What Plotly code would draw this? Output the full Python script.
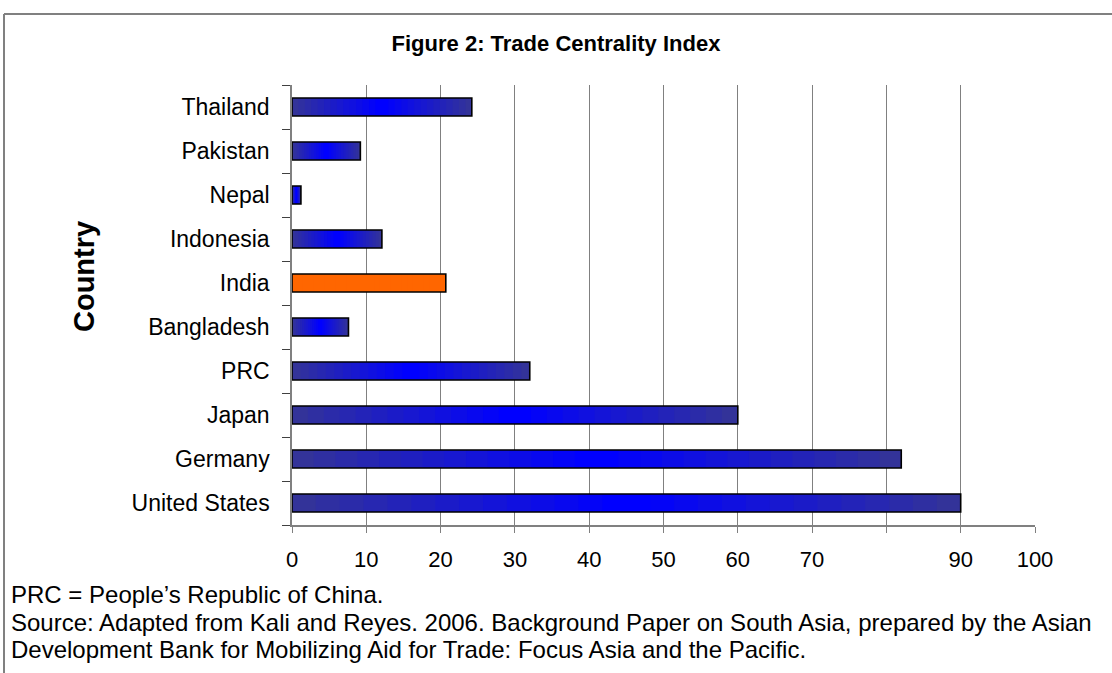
import plotly.graph_objects as go

# ---- data ----
countries = ["United States", "Germany", "Japan", "PRC", "Bangladesh",
             "India", "Indonesia", "Nepal", "Pakistan", "Thailand"]
values = [90, 82, 60, 32, 7.6, 20.7, 12.1, 1.2, 9.2, 24.2]
highlight = "India"
x_tickvals = [0, 10, 20, 30, 40, 50, 60, 70, 80, 90, 100]
x_ticktext = ["0", "10", "20", "30", "40", "50", "60", "70", "", "90", "100"]

title_text = "<b>Figure 2: Trade Centrality Index</b>"
y_title = "<b>Country</b>"
notes = ["PRC = People\u2019s Republic of China.",
         "Source: Adapted from Kali and Reyes. 2006. Background Paper on South Asia, prepared by the Asian",
         "Development Bank for Mobilizing Aid for Trade: Focus Asia and the Pacific."]

# ---- layout geometry (pixels) ----
W, H = 1112, 673
L, R, T, B = 292, 1035, 85, 525
pw, ph = R - L, B - T

def px(x):
    return (x - L) / pw

def py(y):
    return (B - y) / ph

FONT = "Arial, Liberation Sans, sans-serif"
edge = (51, 51, 153)
center = (0, 0, 255)
orange = "#FF6600"
bar_w = 0.41

fig = go.Figure()
N = 14
for k in range(N):
    t = k / (N - 1)
    h = 0.5 * (1 - k / N)
    c = tuple(round(edge[i] + (center[i] - edge[i]) * t) for i in range(3))
    col = "rgb(%d,%d,%d)" % c
    colors = [orange if n == highlight else col for n in countries]
    fig.add_trace(go.Bar(
        y=countries, x=[v * 2 * h for v in values],
        base=[v * (0.5 - h) for v in values], orientation="h",
        marker=dict(color=colors, line=dict(width=0)),
        width=bar_w, showlegend=False, hoverinfo="skip"))

fig.add_trace(go.Bar(
    y=countries, x=values, orientation="h",
    marker=dict(color="rgba(0,0,0,0)", line=dict(color="black", width=1.6)),
    width=bar_w, showlegend=False))

fig.update_layout(
    width=W, height=H, barmode="overlay",
    margin=dict(l=L, r=W - R, t=T, b=H - B, pad=0),
    paper_bgcolor="white", plot_bgcolor="white",
    font=dict(family=FONT, color="black", size=18),
    title=dict(text=title_text, x=0.5, xref="container", xanchor="center",
               y=1 - 43 / H, yref="container", yanchor="middle",
               font=dict(family=FONT, size=22, color="black")),
    xaxis=dict(range=[0, 100], tickvals=x_tickvals, ticktext=x_ticktext,
               showgrid=True, gridcolor="#808080", gridwidth=1,
               showline=True, linecolor="#808080", linewidth=1.5,
               ticks="outside", ticklen=6, tickcolor="#808080",
               ticklabelstandoff=8, zeroline=False,
               tickfont=dict(size=22)),
    yaxis=dict(type="category", categoryorder="array", categoryarray=countries,
               tickson="boundaries", ticks="outside", ticklen=8,
               tickcolor="#404040", showline=True, linecolor="#808080",
               linewidth=1.5, showgrid=False, ticklabelstandoff=16,
               tickfont=dict(size=23)),
)

fig.add_annotation(text=y_title, xref="paper", yref="paper",
                   x=px(84), y=py(277), textangle=-90, showarrow=False,
                   xanchor="center", yanchor="middle",
                   font=dict(size=29, family=FONT, color="black"))

for txt, yy in zip(notes, [594, 622, 649]):
    fig.add_annotation(text=txt, xref="paper", yref="paper",
                       x=px(9), y=py(yy), showarrow=False,
                       xanchor="left", yanchor="middle", align="left",
                       font=dict(size=24, family=FONT, color="black"))

# frame (top and left edges visible)
fig.add_shape(type="line", xref="paper", yref="paper",
              x0=px(4), x1=px(1200), y0=py(14), y1=py(14),
              line=dict(color="#808080", width=2))
fig.add_shape(type="line", xref="paper", yref="paper",
              x0=px(4), x1=px(4), y0=py(14), y1=py(700),
              line=dict(color="#808080", width=2))

fig.write_html("out.html")
